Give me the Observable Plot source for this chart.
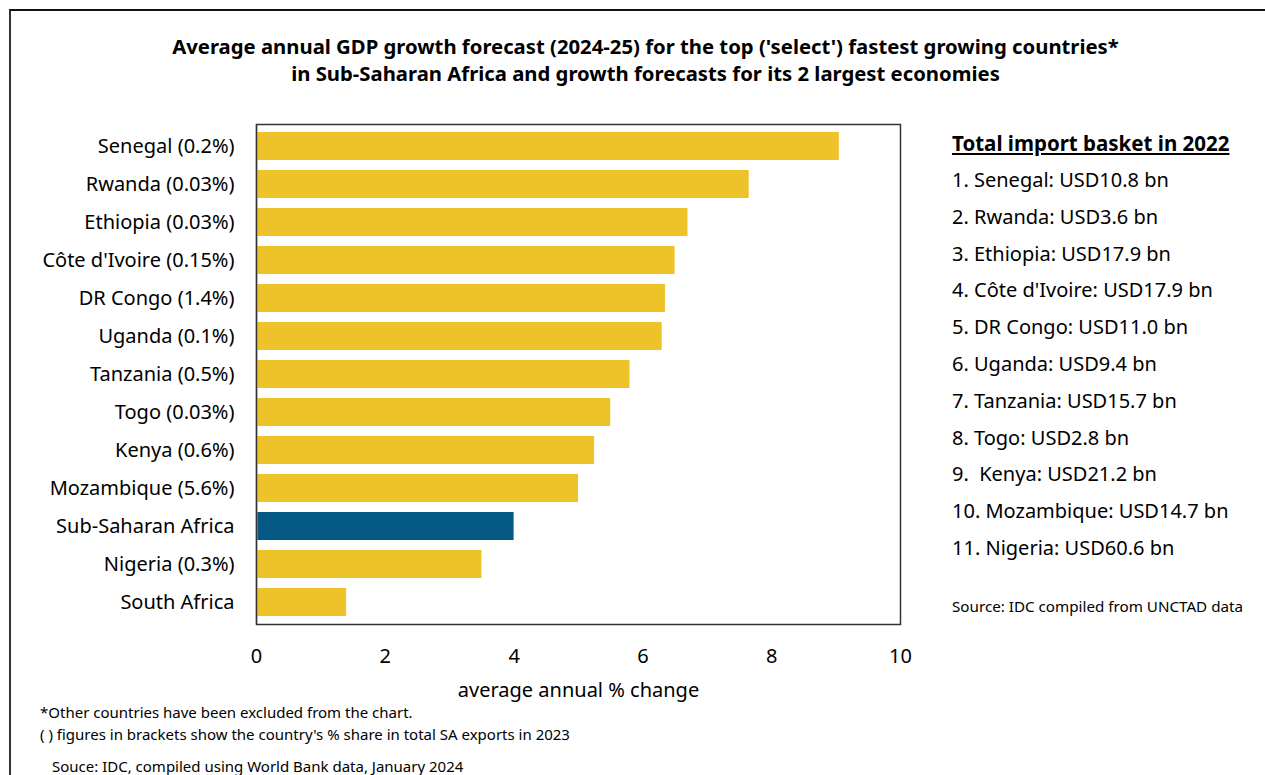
<!DOCTYPE html>
<html>
<head>
<meta charset="utf-8">
<script src="https://cdn.jsdelivr.net/npm/d3@7"></script>
<script src="https://cdn.jsdelivr.net/npm/@observablehq/plot@0.6"></script>
<style>
  html, body { margin: 0; padding: 0; background: #fff; }
  #wrap { position: relative; width: 1265px; height: 775px; overflow: hidden; font-family: "Noto Sans", "Open Sans", sans-serif; color: #000; }
  #border { position: absolute; left: 9px; top: 9px; width: 1300px; height: 800px; border: 2px solid #333; border-top-color: #111; box-sizing: border-box; }
  #title { position: absolute; left: 13px; width: 1265px; top: 33px; text-align: center; font-weight: bold; font-size: 20.3px; line-height: 27px; }
  #chart { position: absolute; left: 0; top: 0; }
  #chart svg { display: block; }
  #panel { position: absolute; left: 952px; top: 127px; font-size: 20px; }
  #panel .hd { font-weight: bold; text-decoration: underline; font-size: 20.5px; line-height: 32px; margin-bottom: 3px; }
  #panel .it { line-height: 36.8px; white-space: pre; }
  #src2 { position: absolute; left: 952px; top: 596px; font-size: 15.2px; }
  .fn { position: absolute; font-size: 15px; white-space: pre; line-height: 20px; }
</style>
</head>
<body>
<div id="wrap">
  <div id="border"></div>
  <div id="title">Average annual GDP growth forecast (2024-25) for the top ('select') fastest growing countries*<br>in Sub-Saharan Africa and growth forecasts for its 2 largest economies</div>
  <div id="chart"></div>
  <div id="panel"></div>
  <div id="src2">Source: IDC compiled from UNCTAD data</div>
  <div class="fn" style="left:40px; top:702px;">*Other countries have been excluded from the chart.</div>
  <div class="fn" style="left:40px; top:724px;">( ) figures in brackets show the country's % share in total SA exports in 2023</div>
  <div class="fn" style="left:52px; top:756px;">Souce: IDC, compiled using World Bank data, January 2024</div>
</div>
<script>
const countries = ["Senegal", "Rwanda", "Ethiopia", "Côte d'Ivoire", "DR Congo", "Uganda", "Tanzania", "Togo", "Kenya", "Mozambique", "Sub-Saharan Africa", "Nigeria", "South Africa"];
const shares = ["0.2%", "0.03%", "0.03%", "0.15%", "1.4%", "0.1%", "0.5%", "0.03%", "0.6%", "5.6%", null, "0.3%", null];
const growth = [9.05, 7.65, 6.7, 6.5, 6.35, 6.3, 5.8, 5.5, 5.25, 5.0, 4.0, 3.5, 1.4];
const xTicks = [0, 2, 4, 6, 8, 10];
const importLabels = ["1. Senegal: USD10.8 bn", "2. Rwanda: USD3.6 bn", "3. Ethiopia: USD17.9 bn", "4. Côte d'Ivoire: USD17.9 bn", "5. DR Congo: USD11.0 bn", "6. Uganda: USD9.4 bn", "7. Tanzania: USD15.7 bn", "8. Togo: USD2.8 bn", "9.  Kenya: USD21.2 bn", "10. Mozambique: USD14.7 bn", "11. Nigeria: USD60.6 bn"];

const data = countries.map((c, i) => ({
  label: shares[i] ? `${c} (${shares[i]})` : c,
  value: growth[i],
  region: c === "Sub-Saharan Africa"
}));

const chart = Plot.plot({
  width: 1265,
  height: 720,
  marginLeft: 256,
  marginRight: 365,
  marginTop: 124,
  marginBottom: 96,
  style: { fontFamily: "'Noto Sans', 'Open Sans', sans-serif", fontSize: "20px", color: "#000", background: "transparent" },
  x: { domain: [0, 10], ticks: xTicks },
  y: { domain: data.map(d => d.label), paddingInner: 0.26, paddingOuter: 0.18 },
  marks: [
    Plot.barX(data, { x: "value", y: "label", fill: d => d.region ? "#045A84" : "#EEC32A" }),
    Plot.axisX({ ticks: xTicks, tickSize: 0, tickPadding: 24, fontSize: 20, label: "average annual % change", labelAnchor: "center", labelArrow: "none", labelOffset: 72 }),
    Plot.axisY({ tickSize: 0, tickPadding: 22, fontSize: 20, label: null }),
    Plot.ruleX([0], { stroke: "#c8c8c8", strokeWidth: 2 }),
    Plot.frame({ stroke: "#333", strokeWidth: 1.5 })
  ]
});
document.getElementById("chart").appendChild(chart);

const panel = document.getElementById("panel");
const hd = document.createElement("div");
hd.className = "hd";
hd.textContent = "Total import basket in 2022";
panel.appendChild(hd);
importLabels.forEach(t => {
  const d = document.createElement("div");
  d.className = "it";
  d.textContent = t;
  panel.appendChild(d);
});
</script>
</body>
</html>
